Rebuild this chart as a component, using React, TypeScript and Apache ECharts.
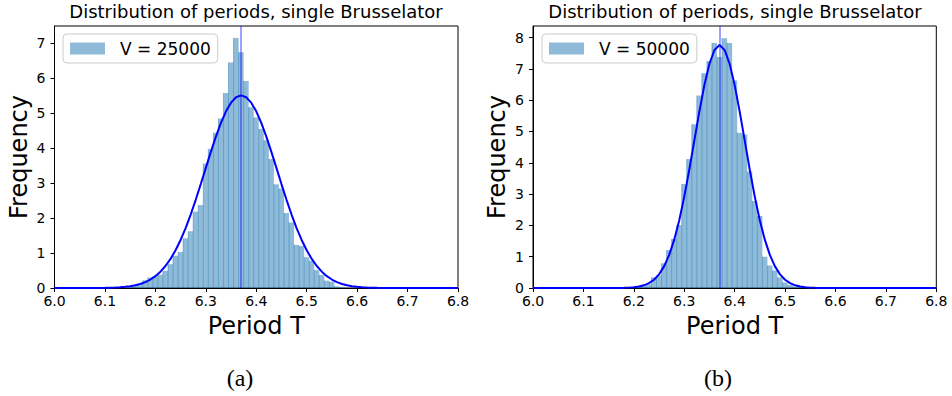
import React, { useEffect, useRef } from "react";
import * as echarts from "echarts";

// ---------- data ----------
const TITLE = "Distribution of periods, single Brusselator";
const X_LABEL = "Period T";
const Y_LABEL = "Frequency";
const CAPTIONS = ["(a)", "(b)"];
const SERIES_A = "V = 25000";
const SERIES_B = "V = 50000";

const BIN_WIDTH = 0.01;
const MEAN_A = 6.37;
const MEAN_B = 6.37;

const binsA = [6.15, 6.16, 6.17, 6.18, 6.19, 6.2, 6.21, 6.22, 6.23, 6.24, 6.25, 6.26, 6.27, 6.28, 6.29, 6.3, 6.31, 6.32, 6.33, 6.34, 6.35, 6.36, 6.37, 6.38, 6.39, 6.4, 6.41, 6.42, 6.43, 6.44, 6.45, 6.46, 6.47, 6.48, 6.49, 6.5, 6.51, 6.52, 6.53, 6.54, 6.55, 6.56, 6.57];
const freqA = [0.03, 0.06, 0.12, 0.22, 0.3, 0.32, 0.38, 0.49, 0.68, 0.92, 1.03, 1.42, 1.62, 2.18, 2.37, 3.55, 3.97, 4.43, 4.84, 5.57, 6.44, 7.14, 6.73, 5.91, 5.16, 4.87, 4.54, 4.22, 3.68, 2.96, 2.84, 2.14, 1.87, 1.23, 1.2, 0.88, 0.78, 0.51, 0.37, 0.21, 0.18, 0.05, 0.03];

const binsB = [6.21, 6.22, 6.23, 6.24, 6.25, 6.26, 6.27, 6.28, 6.29, 6.3, 6.31, 6.32, 6.33, 6.34, 6.35, 6.36, 6.37, 6.38, 6.39, 6.4, 6.41, 6.42, 6.43, 6.44, 6.45, 6.46, 6.47, 6.48, 6.49, 6.5, 6.51, 6.52, 6.53];
const freqB = [0.03, 0.06, 0.12, 0.34, 0.4, 0.79, 1.21, 1.57, 2.01, 3.32, 4.12, 5.23, 6.15, 6.86, 7.25, 7.83, 7.38, 7.98, 7.83, 6.63, 4.96, 4.9, 3.72, 2.78, 2.3, 1.0, 0.72, 0.56, 0.34, 0.18, 0.1, 0.05, 0.04];

const curveAX = [6.0, 6.07, 6.08, 6.09, 6.1, 6.11, 6.12, 6.13, 6.14, 6.15, 6.16, 6.17, 6.18, 6.19, 6.2, 6.21, 6.22, 6.23, 6.24, 6.25, 6.26, 6.27, 6.28, 6.29, 6.3, 6.31, 6.32, 6.33, 6.34, 6.35, 6.36, 6.37, 6.38, 6.39, 6.4, 6.41, 6.42, 6.43, 6.44, 6.45, 6.46, 6.47, 6.48, 6.49, 6.5, 6.51, 6.52, 6.53, 6.54, 6.55, 6.56, 6.57, 6.58, 6.59, 6.6, 6.61, 6.62, 6.63, 6.64, 6.65, 6.66, 6.67, 6.8];
const curveAY = [0, 0.001, 0.002, 0.003, 0.005, 0.008, 0.013, 0.021, 0.034, 0.052, 0.078, 0.116, 0.169, 0.242, 0.339, 0.466, 0.628, 0.831, 1.078, 1.372, 1.712, 2.097, 2.518, 2.967, 3.429, 3.887, 4.322, 4.713, 5.043, 5.292, 5.447, 5.5, 5.447, 5.292, 5.043, 4.713, 4.322, 3.887, 3.429, 2.967, 2.518, 2.097, 1.712, 1.372, 1.078, 0.831, 0.628, 0.466, 0.339, 0.242, 0.169, 0.116, 0.078, 0.052, 0.034, 0.021, 0.013, 0.008, 0.005, 0.003, 0.002, 0.001, 0];

const curveBX = [6.0, 6.15, 6.16, 6.17, 6.18, 6.19, 6.2, 6.21, 6.22, 6.23, 6.24, 6.25, 6.26, 6.27, 6.28, 6.29, 6.3, 6.31, 6.32, 6.33, 6.34, 6.35, 6.36, 6.37, 6.38, 6.39, 6.4, 6.41, 6.42, 6.43, 6.44, 6.45, 6.46, 6.47, 6.48, 6.49, 6.5, 6.51, 6.52, 6.53, 6.54, 6.55, 6.56, 6.57, 6.58, 6.59, 6.8];
const curveBY = [0, 0.001, 0.001, 0.003, 0.006, 0.012, 0.024, 0.046, 0.086, 0.154, 0.264, 0.436, 0.69, 1.05, 1.536, 2.157, 2.912, 3.777, 4.707, 5.635, 6.482, 7.163, 7.606, 7.76, 7.606, 7.163, 6.482, 5.635, 4.707, 3.777, 2.912, 2.157, 1.536, 1.05, 0.69, 0.436, 0.264, 0.154, 0.086, 0.046, 0.024, 0.012, 0.006, 0.003, 0.001, 0.001, 0];

const xTicks = [6.0, 6.1, 6.2, 6.3, 6.4, 6.5, 6.6, 6.7, 6.8];
const yTicksA = [0, 1, 2, 3, 4, 5, 6, 7];
const yTicksB = [0, 1, 2, 3, 4, 5, 6, 7, 8];
const Y_MAX_A = 7.48;
const Y_MAX_B = 8.37;

// ---------- styles ----------
const BAR_FILL = "rgba(31,119,180,0.5)";
const BAR_EDGE = "rgba(31,119,180,0.45)";
const CURVE_COLOR = "#0000ff";
const MEAN_COLOR = "rgba(0,0,255,0.5)";
const FONT = "DejaVu Sans";

function renderBin(params: any, api: any) {
  const c = api.value(0);
  const h = api.value(1);
  const tl = api.coord([c - BIN_WIDTH / 2, h]);
  const br = api.coord([c + BIN_WIDTH / 2, 0]);
  return {
    type: "group",
    children: [
      {
        type: "rect",
        shape: { x: tl[0], y: tl[1], width: br[0] - tl[0], height: br[1] - tl[1] },
        style: { fill: BAR_FILL },
      },
      {
        type: "line",
        shape: { x1: tl[0], y1: tl[1], x2: tl[0], y2: br[1] },
        style: { stroke: BAR_EDGE, lineWidth: 1 },
      },
    ],
  };
}

function makeXAxis(gridIndex: number) {
  return {
    type: "value",
    gridIndex,
    min: xTicks[0],
    max: xTicks[xTicks.length - 1],
    interval: 0.1,
    name: X_LABEL,
    nameLocation: "middle",
    nameGap: 26,
    nameTextStyle: { fontSize: 24, color: "#000", fontFamily: FONT },
    axisLine: { show: true, lineStyle: { color: "#000", width: 1 } },
    axisTick: { show: true, inside: false, length: 4, lineStyle: { color: "#000" } },
    axisLabel: {
      show: true,
      margin: 6,
      fontSize: 14,
      color: "#000",
      fontFamily: FONT,
      formatter: (v: number) => v.toFixed(1),
    },
    splitLine: { show: false },
  };
}

function makeYAxis(gridIndex: number, max: number, ticks: number[]) {
  return {
    type: "value",
    gridIndex,
    min: 0,
    max,
    interval: 1,
    name: Y_LABEL,
    nameLocation: "middle",
    nameGap: 24,
    nameTextStyle: { fontSize: 24, color: "#000", fontFamily: FONT },
    axisLine: { show: true, lineStyle: { color: "#000", width: 1 } },
    axisTick: { show: true, inside: false, length: 4, lineStyle: { color: "#000" }, customValues: ticks },
    axisLabel: {
      show: true,
      margin: 9,
      fontSize: 14,
      color: "#000",
      fontFamily: FONT,
      customValues: ticks,
      formatter: (v: number) => (Number.isInteger(v) ? String(v) : ""),
    },
    splitLine: { show: false },
  };
}

function makeLegend(name: string, left: number) {
  return {
    data: [name],
    left,
    top: 34,
    orient: "horizontal",
    icon: "rect",
    itemWidth: 35,
    itemHeight: 12,
    selectedMode: false,
    backgroundColor: "rgba(255,255,255,0.8)",
    borderColor: "#cccccc",
    borderWidth: 1,
    borderRadius: 4,
    padding: [6, 7, 6, 7],
    textStyle: { fontSize: 17, color: "#000", fontFamily: FONT, padding: [0, 0, 0, 10] },
  };
}

export default function App() {
  const ref = useRef<HTMLDivElement>(null);

  useEffect(() => {
    if (!ref.current) return;
    const chart = echarts.init(ref.current, null, { renderer: "svg" });
    const histA = binsA.map((c, i) => [c, freqA[i]]);
    const histB = binsB.map((c, i) => [c, freqB[i]]);
    const lineA = curveAX.map((x, i) => [x, curveAY[i]]);
    const lineB = curveBX.map((x, i) => [x, curveBY[i]]);

    const titleStyle = { fontFamily: FONT, fontSize: 18, fontWeight: "normal", color: "#000" };
    const capStyle = { fontFamily: "Liberation Serif", fontSize: 24, fontWeight: "normal", color: "#000" };

    chart.setOption({
      animation: false,
      textStyle: { fontFamily: FONT },
      title: [
        { text: TITLE, left: 256, top: 2, textAlign: "center", textStyle: titleStyle, padding: 0 },
        { text: TITLE, left: 735, top: 2, textAlign: "center", textStyle: titleStyle, padding: 0 },
        { text: CAPTIONS[0], left: 240, top: 366, textAlign: "center", textStyle: capStyle, padding: 0 },
        { text: CAPTIONS[1], left: 718, top: 366, textAlign: "center", textStyle: capStyle, padding: 0 },
      ],
      legend: [makeLegend(SERIES_A, 63), makeLegend(SERIES_B, 542)],
      grid: [
        { left: 54.5, top: 26, width: 403.5, height: 262, show: true, borderColor: "#000", borderWidth: 1, backgroundColor: "transparent" },
        { left: 533, top: 26, width: 403.3, height: 262, show: true, borderColor: "#000", borderWidth: 1, backgroundColor: "transparent" },
      ],
      xAxis: [makeXAxis(0), makeXAxis(1)],
      yAxis: [makeYAxis(0, Y_MAX_A, yTicksA), makeYAxis(1, Y_MAX_B, yTicksB)],
      series: [
        {
          name: SERIES_A,
          type: "custom",
          xAxisIndex: 0,
          yAxisIndex: 0,
          renderItem: renderBin,
          itemStyle: { color: BAR_FILL },
          encode: { x: 0, y: 1 },
          data: histA,
          clip: true,
        },
        {
          name: "fitA",
          type: "line",
          xAxisIndex: 0,
          yAxisIndex: 0,
          showSymbol: false,
          symbol: "none",
          lineStyle: { color: CURVE_COLOR, width: 2 },
          itemStyle: { color: CURVE_COLOR },
          data: lineA,
          z: 3,
          markLine: {
            silent: true,
            symbol: ["none", "none"],
            label: { show: false },
            lineStyle: { color: MEAN_COLOR, width: 1.5, type: "solid" },
            data: [{ xAxis: MEAN_A }],
          },
        },
        {
          name: SERIES_B,
          type: "custom",
          xAxisIndex: 1,
          yAxisIndex: 1,
          renderItem: renderBin,
          itemStyle: { color: BAR_FILL },
          encode: { x: 0, y: 1 },
          data: histB,
          clip: true,
        },
        {
          name: "fitB",
          type: "line",
          xAxisIndex: 1,
          yAxisIndex: 1,
          showSymbol: false,
          symbol: "none",
          lineStyle: { color: CURVE_COLOR, width: 2 },
          itemStyle: { color: CURVE_COLOR },
          data: lineB,
          z: 3,
          markLine: {
            silent: true,
            symbol: ["none", "none"],
            label: { show: false },
            lineStyle: { color: MEAN_COLOR, width: 1.5, type: "solid" },
            data: [{ xAxis: MEAN_B }],
          },
        },
      ],
    });
    return () => chart.dispose();
  }, []);

  return (
    <div
      ref={ref}
      style={{ position: "absolute", left: 0, top: 0, width: 952, height: 396, background: "#fff" }}
    />
  );
}
